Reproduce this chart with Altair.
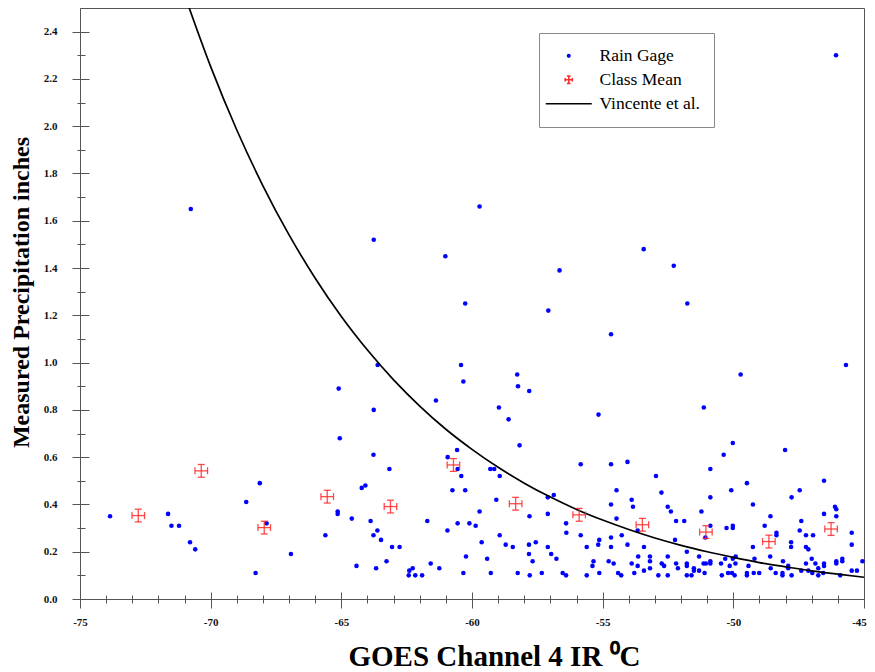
import altair as alt
import pandas as pd

# ---------------- data ----------------
gage_x = [
    -73.85, -71.63, -71.50, -71.21, -70.79, -70.59, -70.76, -68.64, -68.12, -68.28,
    -67.86, -66.93, -65.61, -65.14, -65.14, -65.06, -65.10, -64.60, -64.42, -64.22,
    -64.08, -63.88, -63.77, -63.77, -63.67, -63.62, -63.76, -63.61, -63.76, -63.48,
    -63.16, -63.06, -62.77, -63.27, -62.40, -62.27, -62.42, -62.17, -61.91, -61.71,
    -61.58, -61.25, -61.38, -61.02, -60.93, -60.94, -60.75, -60.57, -60.55, -60.55,
    -60.42, -60.41, -60.33, -60.33, -60.26, -60.26, -60.23, -60.10, -59.86, -59.71,
    -59.71, -59.63, -59.42, -59.30, -59.15, -59.28, -59.07, -58.97, -58.94, -58.94,
    -58.71, -58.60, -58.44, -58.27, -58.24, -58.25, -58.18, -57.81, -57.80, -57.82,
    -57.56, -57.82, -57.68, -57.79, -57.33, -57.08, -57.10, -56.87, -57.10, -57.10,
    -56.97, -56.77, -56.65, -56.53, -56.40, -56.40, -56.39, -55.84, -55.84, -55.61,
    -55.61, -55.35, -55.39, -55.16, -55.13, -55.17, -55.13, -54.77, -54.68, -54.68,
    -54.47, -54.68, -54.47, -54.68, -54.68, -54.58, -54.41, -54.29, -54.05, -54.27,
    -54.05, -53.89, -53.84, -53.66, -53.42, -53.64, -53.89, -53.66, -53.79, -53.42,
    -53.43, -53.19, -53.19, -53.19, -52.96, -52.75, -52.51, -52.39, -52.28, -52.19,
    -51.88, -52.23, -52.51, -52.74, -52.65, -52.87, -52.51, -52.19, -52.12, -51.76,
    -51.78, -51.78, -51.78, -51.78, -51.60, -51.51, -51.51, -51.31, -51.31, -51.22,
    -51.13, -51.14, -51.05, -51.10, -51.07, -50.88, -50.88, -50.88, -50.88, -50.88,
    -50.47, -50.44, -50.37, -50.31, -50.26, -50.20, -50.14, -50.08, -50.05, -50.02,
    -50.02, -50.02, -50.02, -49.95, -49.91, -49.92, -49.72, -49.48, -49.48, -49.48,
    -49.42, -49.25, -49.25, -49.22, -49.19, -49.01, -48.80, -48.58, -48.59, -48.57,
    -48.38, -48.35, -48.35, -48.12, -48.12, -48.10, -48.02, -47.90, -47.90, -47.79,
    -47.79, -47.77, -47.77, -47.46, -47.46, -47.40, -47.40, -47.22, -47.22, -47.22,
    -47.13, -47.13, -47.00, -46.98, -46.95, -46.86, -46.75, -46.75, -46.56, -46.53,
    -46.53, -46.53, -46.53, -46.11, -46.07, -46.06, -46.06, -46.06, -46.06, -45.91,
    -45.83, -45.83, -45.69, -45.47, -45.47, -45.47, -45.27, -45.06,
]
gage_y = [
    0.35, 0.36, 0.31, 0.31, 0.24, 0.21, 1.65, 0.41, 0.49, 0.11,
    0.32, 0.19, 0.27, 0.37, 0.36, 0.68, 0.89, 0.34, 0.14, 0.47,
    0.48, 0.33, 0.61, 0.27, 0.13, 0.29, 1.52, 0.99, 0.80, 0.25,
    0.55, 0.22, 0.22, 0.16, 0.12, 0.13, 0.10, 0.10, 0.10, 0.33,
    0.15, 0.13, 0.84, 1.45, 0.60, 0.29, 0.46, 0.63, 0.55, 0.32,
    0.99, 0.52, 0.92, 0.11, 1.25, 0.46, 0.18, 0.32, 0.31, 1.66,
    0.37, 0.24, 0.17, 0.55, 0.55, 0.11, 0.42, 0.81, 0.52, 0.27,
    0.23, 0.76, 0.22, 0.95, 0.90, 0.11, 0.65, 0.88, 0.35, 0.23,
    0.24, 0.19, 0.16, 0.10, 0.11, 1.22, 0.43, 0.44, 0.36, 0.22,
    0.19, 0.17, 1.39, 0.11, 0.10, 0.32, 0.28, 0.57, 0.27, 0.22,
    0.10, 0.16, 0.14, 0.78, 0.25, 0.23, 0.11, 0.16, 1.12, 0.57,
    0.46, 0.40, 0.34, 0.26, 0.22, 0.15, 0.11, 0.10, 0.58, 0.27,
    0.23, 0.42, 0.39, 0.29, 0.22, 0.18, 0.15, 0.14, 0.11, 0.12,
    1.48, 0.18, 0.16, 0.13, 0.52, 0.45, 0.39, 0.37, 1.41, 0.33,
    0.33, 0.25, 0.18, 0.15, 0.14, 0.10, 0.10, 0.15, 0.13, 1.25,
    0.20, 0.15, 0.14, 0.10, 0.10, 0.13, 0.12, 0.18, 0.12, 0.37,
    0.81, 0.15, 0.15, 0.11, 0.26, 0.55, 0.43, 0.31, 0.16, 0.15,
    0.15, 0.10, 0.61, 0.17, 0.30, 0.11, 0.14, 0.46, 0.11, 0.66,
    0.31, 0.30, 0.17, 0.10, 0.18, 0.15, 0.95, 0.49, 0.11, 0.10,
    0.14, 0.40, 0.22, 0.11, 0.17, 0.11, 0.31, 0.35, 0.18, 0.13,
    0.11, 0.28, 0.27, 0.11, 0.10, 0.16, 0.63, 0.14, 0.13, 0.24,
    0.22, 0.43, 0.10, 0.46, 0.29, 0.33, 0.12, 0.27, 0.22, 0.15,
    0.21, 0.12, 0.17, 0.11, 0.27, 0.15, 0.13, 0.10, 0.11, 0.50,
    0.36, 0.15, 0.14, 0.39, 2.30, 0.38, 0.35, 0.16, 0.15, 0.10,
    0.17, 0.16, 0.99, 0.28, 0.23, 0.12, 0.12, 0.16,
]
assert len(gage_x) == len(gage_y)

mean_x = [-72.77, -70.36, -67.95, -65.54, -63.12, -60.71, -58.33, -55.90, -53.48, -51.05, -48.64, -46.26]
mean_y = [0.353, 0.542, 0.302, 0.433, 0.391, 0.567, 0.403, 0.356, 0.314, 0.283, 0.243, 0.296]
mean_xerr = [0.24, 0.24, 0.24, 0.24, 0.24, 0.24, 0.24, 0.24, 0.24, 0.24, 0.24, 0.24]
mean_yerr = [0.027, 0.027, 0.027, 0.027, 0.027, 0.027, 0.027, 0.027, 0.027, 0.027, 0.027, 0.027]

curve_x = [-71, -70, -69, -68, -67, -66, -65, -64, -63, -62, -61, -60, -59,
           -58, -57, -56, -55, -54, -53, -52, -51, -50, -49, -48, -47, -46, -45]
curve_y = [2.556, 2.252, 1.984, 1.748, 1.540, 1.357, 1.195, 1.053, 0.927, 0.816,
           0.718, 0.633, 0.557, 0.490, 0.431, 0.379, 0.334, 0.294, 0.258, 0.227,
           0.200, 0.176, 0.154, 0.136, 0.119, 0.105, 0.092]

legend_names = ["Rain Gage", "Class Mean", "Vincente et al."]
legend_colors = ["#0000ff", "#ff2a2a", "#000000"]

x_ticks = [-75, -74, -73, -72, -71, -70, -69, -68, -67, -66, -65, -64, -63, -62, -61, -60,
           -59, -58, -57, -56, -55, -54, -53, -52, -51, -50, -49, -48, -47, -46, -45]
x_major = [-75, -70, -65, -60, -55, -50, -45]
x_minor = [v for v in x_ticks if v not in x_major]
y_ticks = [0.0, 0.1, 0.2, 0.3, 0.4, 0.5, 0.6, 0.7, 0.8, 0.9, 1.0, 1.1, 1.2,
           1.3, 1.4, 1.5, 1.6, 1.7, 1.8, 1.9, 2.0, 2.1, 2.2, 2.3, 2.4]
y_major = [0.0, 0.2, 0.4, 0.6, 0.8, 1.0, 1.2, 1.4, 1.6, 1.8, 2.0, 2.2, 2.4]
y_minor = [0.1, 0.3, 0.5, 0.7, 0.9, 1.1, 1.3, 1.5, 1.7, 1.9, 2.1, 2.3]

# ---------------- frames ----------------
gage = pd.DataFrame({"x": gage_x, "y": gage_y})
means = pd.DataFrame({
    "x": mean_x, "y": mean_y,
    "xlo": [a - e for a, e in zip(mean_x, mean_xerr)],
    "xhi": [a + e for a, e in zip(mean_x, mean_xerr)],
    "ylo": [a - e for a, e in zip(mean_y, mean_yerr)],
    "yhi": [a + e for a, e in zip(mean_y, mean_yerr)],
})
curve = pd.DataFrame({"x": curve_x, "y": curve_y})
legend_df = pd.DataFrame({"series": legend_names, "x": [None] * 3, "y": [None] * 3})

FONT = "Liberation Serif"
AX = "#555555"
RED = "#ff2a2a"

xs = alt.Scale(domain=[-75, -45], nice=False, zero=False)
ys = alt.Scale(domain=[0, 2.5], nice=False, zero=False)

main_x_axis = alt.Axis(
    values=x_ticks, orient="bottom", grid=False,
    labelExpr="datum.value % 5 === 0 ? '' + datum.value : ''",
    tickSize={"condition": {"test": "datum.value % 5 !== 0", "value": 4}, "value": 9},
    labelOffset={"condition": {"test": "datum.value === -45", "value": -5}, "value": 0},
    tickColor=AX, domainColor=AX, tickWidth=1, domainWidth=1,
    labelFont=FONT, labelFontWeight="bold", labelFontSize=11, labelColor="#111",
    labelPadding=8, labelFlush=False, labelOverlap=False,
    title="GOES Channel 4 IR \u2070C", titleFont=FONT, titleFontSize=29,
    titleFontWeight="bold", titleColor="#000", titleX=414, titleY=66,
    titleAlign="center", titleBaseline="alphabetic",
)
main_y_axis = alt.Axis(
    values=y_ticks, orient="left", grid=False,
    labelExpr="round(datum.value * 10) % 2 === 0 ? format(datum.value, '.1f') : ''",
    tickSize={"condition": {"test": "round(datum.value * 10) % 2 !== 0", "value": 3}, "value": 8},
    tickColor=AX, domainColor=AX, tickWidth=1, domainWidth=1,
    labelFont=FONT, labelFontWeight="bold", labelFontSize=11, labelColor="#111",
    labelPadding=15, labelFlush=False, labelOverlap=False,
    title="Measured Precipitation inches", titleFont=FONT, titleFontSize=24,
    titleFontWeight="bold", titleColor="#000", titleX=-59, titleY=284,
    titleBaseline="middle", titleAngle=270,
)


def inner_axis(orient, values, size):
    return alt.Axis(orient=orient, values=values, offset=-size, tickSize=size,
                    labels=False, domain=False, grid=False, title=None,
                    tickColor=AX, tickWidth=1)


points = alt.Chart(gage).mark_circle(size=21, color="#0000ff", opacity=1).encode(
    x=alt.X("x:Q", scale=xs, axis=main_x_axis),
    y=alt.Y("y:Q", scale=ys, axis=main_y_axis),
)
inner_major = alt.Chart(gage).mark_circle(opacity=0).encode(
    x=alt.X("x:Q", scale=xs, axis=inner_axis("bottom", x_major, 7)),
    y=alt.Y("y:Q", scale=ys, axis=inner_axis("left", y_major, 9)),
)
inner_minor = alt.Chart(gage).mark_circle(opacity=0).encode(
    x=alt.X("x:Q", scale=xs, axis=inner_axis("bottom", x_minor, 4)),
    y=alt.Y("y:Q", scale=ys, axis=inner_axis("left", y_minor, 5)),
)

line = alt.Chart(curve).mark_line(color="black", strokeWidth=1.7, clip=True,
                                   interpolate="monotone").encode(
    x=alt.X("x:Q", scale=xs, axis=None),
    y=alt.Y("y:Q", scale=ys, axis=None),
)

mb = alt.Chart(means)
hbar = mb.mark_rule(color=RED, strokeWidth=1.3, opacity=0.85).encode(
    x=alt.X("xlo:Q", scale=xs, axis=None), x2="xhi:Q",
    y=alt.Y("y:Q", scale=ys, axis=None))
vbar = mb.mark_rule(color=RED, strokeWidth=1.3, opacity=0.85).encode(
    x=alt.X("x:Q", scale=xs, axis=None),
    y=alt.Y("ylo:Q", scale=ys, axis=None), y2="yhi:Q")
cap_l = mb.mark_tick(color=RED, orient="vertical", size=7, thickness=1.3, opacity=0.85).encode(
    x=alt.X("xlo:Q", scale=xs, axis=None), y=alt.Y("y:Q", scale=ys, axis=None))
cap_r = mb.mark_tick(color=RED, orient="vertical", size=7, thickness=1.3, opacity=0.85).encode(
    x=alt.X("xhi:Q", scale=xs, axis=None), y=alt.Y("y:Q", scale=ys, axis=None))
cap_b = mb.mark_tick(color=RED, orient="horizontal", size=7, thickness=1.3, opacity=0.85).encode(
    x=alt.X("x:Q", scale=xs, axis=None), y=alt.Y("ylo:Q", scale=ys, axis=None))
cap_t = mb.mark_tick(color=RED, orient="horizontal", size=7, thickness=1.3, opacity=0.85).encode(
    x=alt.X("x:Q", scale=xs, axis=None), y=alt.Y("yhi:Q", scale=ys, axis=None))

cross_path = ("M-1,0L1,0M0,-1L0,1M-1,-0.5L-1,0.5M1,-0.5L1,0.5"
              "M-0.5,-1L0.5,-1M-0.5,1L0.5,1")
line_path = "M-4.6,0L4.6,0"

leg = alt.Legend(title=None, orient="none", legendX=459, legendY=25,
                 strokeColor="#888888", fillColor="white", padding=14,
                 labelFont=FONT, labelFontSize=17.5, labelColor="#000",
                 symbolStrokeWidth=1.5, rowPadding=5, symbolOffset=7,
                 labelOffset=22, labelLimit=300)

legend_layer = alt.Chart(legend_df).mark_point(invalid="filter", clip=True, opacity=1).encode(
    x=alt.X("x:Q", scale=xs, axis=None),
    y=alt.Y("y:Q", scale=ys, axis=None),
    fill=alt.Fill("series:N", scale=alt.Scale(domain=legend_names, range=legend_colors), legend=leg),
    stroke=alt.Stroke("series:N", scale=alt.Scale(domain=legend_names, range=legend_colors), legend=leg),
    shape=alt.Shape("series:N", scale=alt.Scale(domain=legend_names,
                                                range=["circle", cross_path, line_path]), legend=leg),
    size=alt.Size("series:N", scale=alt.Scale(domain=legend_names, range=[6, 100, 400]), legend=leg),
)

chart = alt.layer(
    points, inner_major, inner_minor, line, hbar, vbar, cap_l, cap_r, cap_b, cap_t, legend_layer
).resolve_axis(
    x="independent", y="independent"
).properties(
    width=784, height=591,
    autosize=alt.AutoSizeParams(type="none"),
    padding={"left": 72, "top": 0, "right": 3, "bottom": 73},
    background="white",
).configure_view(stroke=AX, strokeWidth=1)

chart.save("out.html", embed_options={"renderer": "svg", "actions": False})
